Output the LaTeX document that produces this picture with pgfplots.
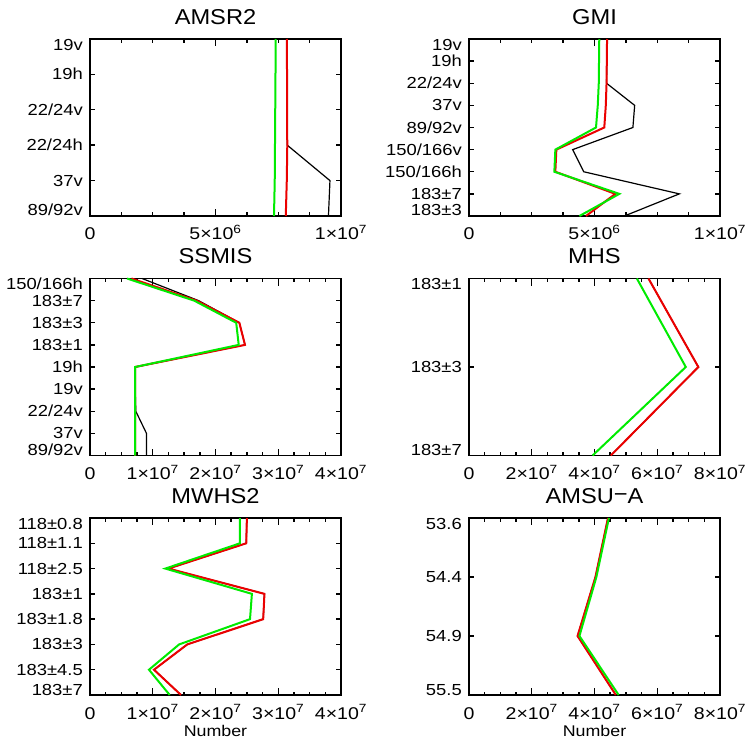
\documentclass[border=0pt]{standalone}
\usepackage{fontspec}
\setmainfont{Liberation Sans}[FakeStretch=1.15]
\newfontfamily\titlefont{Liberation Sans}[FakeStretch=1.1]
\usepackage{pgfplots}
\pgfplotsset{compat=1.18}
\definecolor{cred}{RGB}{235,0,0}
\definecolor{cgreen}{RGB}{0,235,0}
\newcommand{\T}[2]{#1×10\textsuperscript{#2}}
\newcommand{\TOP}[1]{\raisebox{-5.5pt}{#1}}
\newcommand{\BOT}[1]{\raisebox{5.5pt}{#1}}
\pgfplotsset{
  panel/.style={
    scale only axis, width=251pt, height=177pt,
    anchor=south west,
    y dir=reverse,
    scaled x ticks=false,
    axis line style={line width=1.8pt},
    tick align=inside,
    xtick pos=both, ytick pos=both,
    every tick/.style={black, line width=1.4pt},
    major tick length=5pt,
    minor tick length=3.5pt,
    xtick style={/pgfplots/major tick length=7pt},
    minor x tick num=3,
    yticklabel style={font=\fontsize{16}{17}\selectfont, anchor=base east, inner sep=0pt, xshift=-7pt, yshift=-5.5pt},
    xticklabel style={font=\fontsize{17}{18}\selectfont, anchor=base, inner sep=0pt, yshift=-24pt},
    title style={font=\titlefont\fontsize{21.5}{24}\selectfont, at={(0.5,1)}, anchor=base, yshift=9pt},
    xmin=0,
    clip=false,
    blk/.style={black, line width=1.2pt},
    rd/.style={cred, line width=2pt},
    gr/.style={cgreen, line width=2pt},
  },
  xlab/.style={xlabel={Number}, xlabel style={font=\fontsize{15.5}{16}\selectfont, at={(axis description cs:0.5,0)}, anchor=base, yshift=-41pt}},
  r1/.style={xmax=1e7, xtick={0,5e6,1e7}, xticklabels={0,\T{5}{6},\T{1}{7}}},
  r4/.style={xmax=4e7, xtick={0,1e7,2e7,3e7,4e7}, xticklabels={0,\T{1}{7},\T{2}{7},\T{3}{7},\T{4}{7}}},
  r8/.style={xmax=8e7, xtick={0,2e7,4e7,6e7,8e7}, xticklabels={0,\T{2}{7},\T{4}{7},\T{6}{7},\T{8}{7}}},
}
\begin{document}
\begin{tikzpicture}
\useasboundingbox (0,0) rectangle (747pt,742pt);

% AMSR2
\begin{axis}[panel, r1, at={(90pt,526pt)}, title={AMSR2},
  ymin=0, ymax=5, ytick={0,...,5},
  yticklabels={\TOP{19v},19h,22/24v,22/24h,37v,\BOT{89/92v}}]
\addplot[blk] coordinates {(7.84e6,0) (7.85e6,1) (7.85e6,2) (7.86e6,3) (9.56e6,4) (9.50e6,5)};
\addplot[rd] coordinates {(7.84e6,0) (7.85e6,1) (7.85e6,2) (7.86e6,3) (7.84e6,4) (7.80e6,5)};
\addplot[gr] coordinates {(7.40e6,0) (7.39e6,1) (7.38e6,2) (7.37e6,3) (7.36e6,4) (7.33e6,5)};
\end{axis}

% GMI
\begin{axis}[panel, r1, at={(469pt,526pt)}, title={GMI},
  ymin=0, ymax=8, ytick={0,...,8},
  yticklabels={\TOP{19v},19h,22/24v,37v,89/92v,150/166v,150/166h,183±7,\BOT{183±3}}]
\addplot[blk] coordinates {(5.50e6,0) (5.49e6,1) (5.48e6,2) (6.60e6,3) (6.53e6,4) (4.13e6,5) (4.57e6,6) (8.38e6,7) (6.19e6,8)};
\addplot[rd] coordinates {(5.50e6,0) (5.49e6,1) (5.48e6,2) (5.45e6,3) (5.39e6,4) (3.48e6,5) (3.44e6,6) (5.83e6,7) (4.66e6,8)};
\addplot[gr] coordinates {(5.19e6,0) (5.18e6,1) (5.17e6,2) (5.13e6,3) (5.06e6,4) (3.44e6,5) (3.40e6,6) (5.99e6,7) (4.40e6,8)};
\end{axis}

% SSMIS
\begin{axis}[panel, r4, at={(90pt,286.5pt)}, title={SSMIS},
  ymin=0, ymax=8, ytick={0,...,8},
  yticklabels={\TOP{150/166h},183±7,183±3,183±1,19h,19v,22/24v,37v,\BOT{89/92v}}]
\addplot[blk] coordinates {(8.3e6,0) (1.73e7,1) (2.38e7,2) (2.47e7,3) (7.2e6,4) (7.2e6,5) (7.3e6,6) (9.0e6,7) (9.0e6,8)};
\addplot[rd] coordinates {(6.6e6,0) (1.70e7,1) (2.38e7,2) (2.47e7,3) (7.2e6,4) (7.2e6,5) (7.2e6,6) (7.2e6,7) (7.2e6,8)};
\addplot[gr] coordinates {(5.9e6,0) (1.66e7,1) (2.33e7,2) (2.37e7,3) (7.2e6,4) (7.2e6,5) (7.2e6,6) (7.2e6,7) (7.2e6,8)};
\end{axis}

% MHS
\begin{axis}[panel, r8, at={(469pt,286.5pt)}, title={MHS},
  ymin=0, ymax=2, ytick={0,1,2},
  yticklabels={\TOP{183±1},183±3,\BOT{183±7}}]
\addplot[blk] coordinates {(5.72e7,0) (7.31e7,1) (4.52e7,2)};
\addplot[rd] coordinates {(5.72e7,0) (7.31e7,1) (4.52e7,2)};
\addplot[gr] coordinates {(5.35e7,0) (6.91e7,1) (3.94e7,2)};
\end{axis}

% MWHS2
\begin{axis}[panel, r4, xlab, at={(90pt,47pt)}, title={MWHS2},
  ymin=0, ymax=7, ytick={0,...,7},
  yticklabels={\TOP{118±0.8},118±1.1,118±2.5,183±1,183±1.8,183±3,183±4.5,\BOT{183±7}}]
\addplot[blk] coordinates {(2.50e7,0) (2.49e7,1) (1.25e7,2) (2.78e7,3) (2.76e7,4) (1.55e7,5) (1.02e7,6) (1.45e7,7)};
\addplot[rd] coordinates {(2.50e7,0) (2.49e7,1) (1.25e7,2) (2.78e7,3) (2.76e7,4) (1.55e7,5) (1.02e7,6) (1.45e7,7)};
\addplot[gr] coordinates {(2.39e7,0) (2.39e7,1) (1.20e7,2) (2.58e7,3) (2.55e7,4) (1.42e7,5) (0.94e7,6) (1.27e7,7)};
\end{axis}

% AMSU-A
\begin{axis}[panel, r8, xlab, at={(469pt,47pt)}, title={AMSU\raisebox{0.1ex}{−}A},
  ymin=0, ymax=3, ytick={0,...,3},
  yticklabels={\TOP{53.6},54.4,54.9,\BOT{55.5}}]
\addplot[blk] coordinates {(4.43e7,0) (4.03e7,1) (3.46e7,2) (4.68e7,3)};
\addplot[rd] coordinates {(4.43e7,0) (4.03e7,1) (3.46e7,2) (4.68e7,3)};
\addplot[gr] coordinates {(4.46e7,0) (4.06e7,1) (3.52e7,2) (4.77e7,3)};
\end{axis}
\end{tikzpicture}
\end{document}
